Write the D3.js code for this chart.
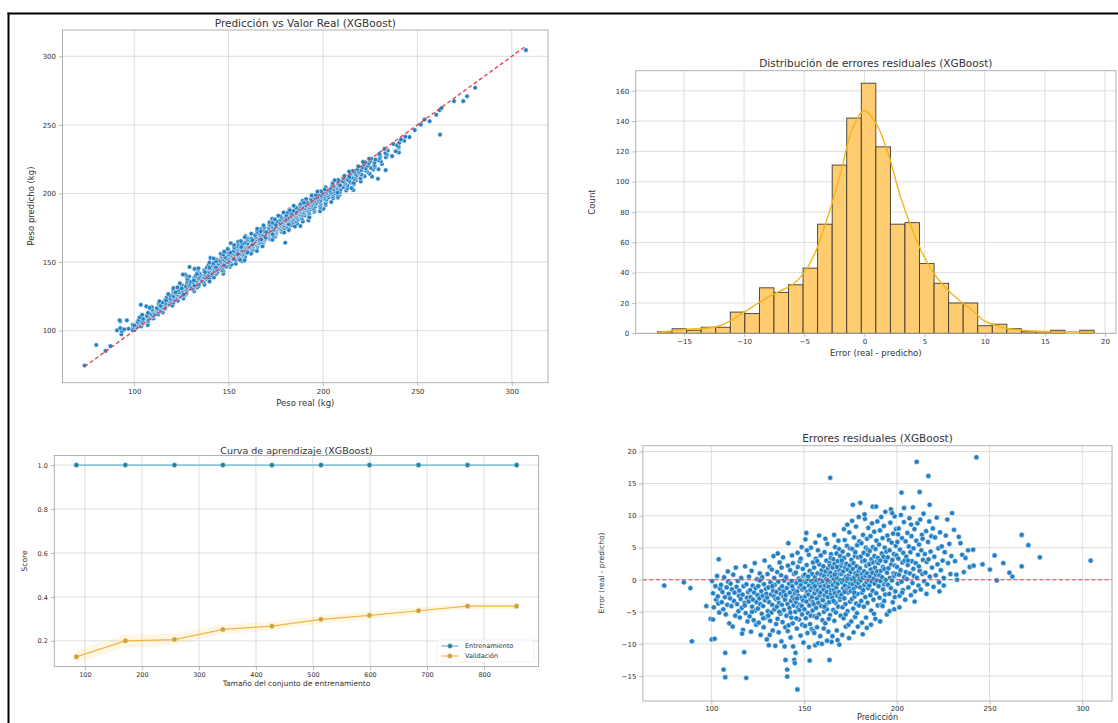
<!DOCTYPE html>
<html><head><meta charset="utf-8">
<script src="https://cdn.jsdelivr.net/npm/d3@7/dist/d3.min.js"></script>
<style>
body{margin:0;background:#fff;}
svg{display:block;}
text{font-family:"DejaVu Sans",sans-serif;fill:#333;}
</style>
</head><body>
<svg id="chart" width="1118" height="723"></svg>
<script>
// ---------------- DATA ----------------
// [prediction (kg), residual = real - prediction (kg)]
const residualPoints = [
[74.6,-0.9],[85.2,-0.4],[88.7,-1.3],[89.5,-9.6],[97.3,-4.1],[99.6,-6.1],[100.2,-9.3],
[100.4,-0.2],[100.9,-2.1],[101.3,-4.3],[101.8,-9.2],[102.2,-1.0],[102.6,-3.1],[103.1,0.6],[103.5,-2.6],[104,3.2],[104.3,-5.1],[104.7,-1.4],[100.9,-6.2],[103.8,-3.7],
[105.2,-0.8],[105.6,-3.5],[106,-1.9],[106.4,-4.6],[106.6,-14],[106.9,0.4],[107.3,-2.7],[107.5,-11.4],[107.5,-15.2],[107.8,-5.4],[108.2,-1.2],[108.6,-3.9],[109,-0.3],[109.3,-2.2],[109.7,-6.8],[108.9,1.3],
[110.1,-2.9],[110.4,-0.6],[110.8,-4.1],[111.1,-1.5],[111.5,-7.3],[111.8,0.8],[112.2,-3.3],[112.5,-2.0],[112.9,-5.6],[113.2,1.9],[113.6,-1.1],[113.9,-3.8],[114.3,-0.2],[114.6,-4.9],[114.9,-2.5],
[115.1,-1.7],[115.4,-5.9],[115.8,-3.0],[116.1,0.3],[116.4,-4.4],[116.8,-2.3],[117.1,-7.8],[117.4,-1.0],[117.7,-11.3],[117.9,-3.6],[118.2,2.1],[118.5,-5.2],[118.8,-15.3],[118.9,-0.7],[119.2,-2.8],[119.5,-6.5],[119.8,-1.9],[116.6,-8.4],[118.0,-4.0],
[120.1,-3.4],[120.3,0.5],[120.6,-5.7],[120.9,-1.6],[121.2,-2.7],[121.4,-8.1],[121.7,1.4],[122,-4.2],[122.3,-0.9],[122.5,-3.1],[122.8,-6.3],[123.1,-2.0],[123.4,2.6],[123.6,-4.8],[123.9,-1.3],[124.2,-7.0],[124.4,-3.5],[124.7,0.1],[124.9,-2.4],[121.9,-5.0],
[125.1,-4.5],[125.3,-1.0],[125.6,-6.7],[125.9,-2.9],[126.1,1.0],[126.4,-3.8],[126.6,-8.6],[126.9,-1.8],[127.2,-5.3],[127.4,0.4],[127.7,-2.5],[127.9,-4.1],[128.2,-7.4],[128.4,-0.7],[128.7,3.0],[128.9,-3.2],[129.2,-5.9],[129.4,-1.4],[129.7,-2.2],[129.9,-9.3],[126.2,-0.1],[128.0,-6.0],
[130.1,-2.8],[130.3,0.9],[130.5,-4.9],[130.8,-1.2],[131,-10.2],[131.2,-3.5],[131.4,2.0],[131.7,-6.4],[131.9,-0.4],[132.1,-2.3],[132.4,-5.1],[132.6,1.6],[132.8,-3.9],[133.1,-7.9],[133.3,-1.7],[133.5,3.7],[133.8,-2.6],[134,-4.6],[134.2,-0.8],[134.5,-10.3],[134.7,-3.0],[134.9,-6.9],[131.5,-8.6],[132.9,-1.0],[130.7,-5.6],[133.9,0.3],
[135.1,-1.9],[135.3,-4.2],[135.5,1.2],[135.7,-6.1],[135.9,-2.9],[136.1,-0.3],[136.3,-8.2],[136.5,-3.6],[136.8,2.7],[137,-1.4],[137.2,-5.3],[137.4,-2.2],[137.6,0.7],[137.8,-9.6],[138,-3.9],[138.2,-1.0],[138.4,-6.6],[138.7,3.5],[138.9,-2.6],[139.1,-4.7],[139.3,-0.1],[139.5,-10.4],[139.7,-3.1],[139.9,-7.4],[136.6,-5.0],[137.9,1.9],[139.0,-1.8],[135.8,4.1],
[140,-12.5],[140.1,-2.4],[140.3,0.4],[140.5,-5.6],[140.7,-1.3],[140.9,-14],[140.9,-15.1],[141.1,-3.8],[141.3,2.2],[141.5,5.7],[141.7,-7.1],[141.9,-0.6],[142.1,-4.4],[142.3,-2.0],[142.5,1.5],[142.7,-9.0],[142.9,-3.3],[143.1,-5.9],[143.3,-0.2],[143.5,3.8],[143.7,-2.7],[143.9,-6.8],[144.1,-10.4],[144.2,-1.5],[144.4,-4.0],[144.6,0.9],[144.7,-12.5],[144.8,-3.0],[141.2,-8.0],[142.6,-5.1],[143.6,-1.0],[144.0,2.6],[145,-13],[145.4,-11.4],
[145.1,-2.1],[145.3,-5.0],[145.5,1.1],[145.7,-3.5],[145.9,-0.5],[146.1,-7.6],[146.3,-1.8],[146.4,-17.1],[146.5,4.2],[146.7,-4.3],[146.9,-2.5],[147.1,0.2],[147.3,-6.2],[147.5,-1.1],[147.7,2.9],[147.9,-3.9],[148.1,-8.7],[148.3,-0.8],[148.5,-2.8],[148.7,5.1],[148.9,-5.4],[149.1,-1.5],[149.3,1.7],[149.5,-3.2],[149.7,-9.8],[149.9,-0.3],[145.8,-6.0],[146.6,2.0],[147.4,-4.7],[148.2,3.3],[149.0,-7.0],[149.6,0.6],[146.2,-2.9],[147.8,-0.1],[148.8,-4.1],
[150.1,-1.3],[150.2,-4.6],[150.4,0.8],[150.6,-2.6],[150.7,6.3],[150.9,-6.0],[151.1,-0.4],[151.3,-3.4],[151.4,2.3],[151.6,-1.9],[151.8,-8.3],[152,0.1],[152.1,-5.2],[152.3,-2.3],[152.5,3.9],[152.7,-0.9],[152.8,-4.0],[153,-12.6],[153,1.4],[153.2,-6.9],[153.4,-1.6],[153.5,-3.0],[153.7,5.0],[153.9,-0.2],[154.1,-7.7],[154.2,-2.7],[154.4,0.9],[154.6,-4.8],[154.7,-3.5],[154.8,2.7],[155,-8.0],[150.5,-7.2],[151.5,4.6],[152.6,-10.5],[153.6,-5.6],[154.3,-1.2],[151.2,7.3],[152.2,0.5],
[155.1,-0.6],[155.2,-3.8],[155.4,1.9],[155.6,-2.1],[155.7,-5.7],[155.9,0.4],[156,-10.2],[156.2,-1.4],[156.4,3.3],[156.5,-4.4],[156.7,-0.1],[156.9,-2.9],[157,-7.4],[157.2,1.0],[157.4,-1.7],[157.5,4.6],[157.7,-3.6],[157.9,-0.7],[158,-5.4],[158.2,2.4],[158.4,-2.4],[158.5,0.0],[158.7,-8.8],[158.9,-1.0],[159,3.8],[159.2,-4.1],[159.4,-0.4],[159.5,1.5],[159.7,-3.1],[159.9,-6.3],[155.5,-8.3],[156.1,5.8],[156.8,-5.9],[157.6,-9.9],[158.1,6.9],[158.8,-2.0],[159.3,0.8],[157.1,2.9],[155.8,-1.0],[159.6,-10.0],
[160.1,-0.2],[160.2,-3.2],[160.4,2.1],[160.5,-1.5],[160.7,-5.0],[160.8,0.6],[161,4.3],[161.1,-2.4],[161.3,-0.9],[161.4,-6.8],[161.6,1.3],[161.7,-3.9],[161.9,0.1],[162,3.0],[162.2,-1.9],[162.3,-4.6],[162.5,5.6],[162.6,-0.5],[162.8,-2.7],[162.9,1.8],[163.1,-8.1],[163.2,-1.1],[163.4,0.8],[163.5,-3.5],[163.7,2.6],[163.7,-12.5],[163.8,-0.3],[164,-5.5],[164.1,15.9],[164.2,1.1],[164.3,-2.2],[164.5,4.0],[164.6,-1.6],[164.8,-9.7],[164.9,0.4],[160.6,-7.6],[161.5,6.4],[162.4,-9.5],[163.3,-6.1],[164.4,3.4],[160.9,-4.2],[162.7,-0.1],[163.9,2.2],
[165.1,0.5],[165.2,-2.8],[165.4,1.9],[165.5,-0.8],[165.7,-4.7],[165.8,3.2],[166,-1.6],[166.1,0.1],[166.3,-6.4],[166.4,2.5],[166.6,-2.1],[166.7,5.1],[166.9,-0.4],[167,-3.6],[167.2,1.2],[167.3,-1.2],[167.5,4.1],[167.6,-7.9],[167.8,0.3],[167.9,-2.5],[168.1,2.9],[168.2,-0.6],[168.4,-4.2],[168.5,6.1],[168.7,1.6],[168.8,-1.9],[169,-10.1],[169.1,0.9],[169.3,-3.1],[169.4,3.7],[169.6,-0.1],[169.7,-5.6],[169.9,2.2],[165.3,-8.8],[166.2,7.0],[167.1,-5.1],[168.0,-9.4],[168.9,4.8],[169.5,-2.7],[166.5,0.8],[167.7,2.0],[165.9,-3.3],
[170.1,0.9],[170.2,-2.3],[170.4,2.7],[170.5,-0.4],[170.7,-4.3],[170.8,4.4],[171,-1.3],[171.1,1.3],[171.3,-6.0],[171.4,0.0],[171.6,3.4],[171.7,-2.9],[171.9,6.2],[172,-0.9],[172.2,1.9],[172.3,-3.8],[172.5,-7.3],[172.6,0.5],[172.8,2.5],[172.9,-1.6],[173.1,5.3],[173.2,-0.2],[173.4,-4.9],[173.5,1.6],[173.7,-2.0],[173.8,3.9],[174,-7.0],[174.1,0.7],[174.3,-1.1],[174.4,7.4],[174.6,2.2],[174.8,-3.4],[174.9,-0.6],[170.6,-8.6],[171.5,7.9],[172.4,-5.4],[173.3,8.6],[174.2,-9.1],[170.3,3.0],[171.8,-1.9],[173.6,0.2],[174.7,4.9],
[175.1,1.2],[175.2,-1.8],[175.4,-6.5],[175.5,3.1],[175.7,0.1],[175.8,-3.0],[176,4.8],[176.1,-0.7],[176.3,11.7],[176.3,1.7],[176.5,-4.5],[176.6,2.6],[176.8,-1.4],[176.9,6.6],[177.1,0.4],[177.2,-2.6],[177.4,3.7],[177.5,-5.8],[177.7,1.0],[177.8,-0.3],[178,8.3],[178.1,-3.7],[178.3,2.1],[178.4,-1.0],[178.6,5.4],[178.7,0.7],[178.9,-2.2],[179,-7.3],[179.1,3.5],[179.3,-0.5],[179.4,1.4],[179.6,-4.0],[179.8,6.0],[179.9,0.2],[175.9,9.2],[176.7,-8.2],[177.6,4.3],[178.5,-5.2],[179.5,9.8],[177.0,-2.0],
[180.1,1.8],[180.3,12.0],[180.3,-1.2],[180.5,3.6],[180.6,-0.1],[180.8,-3.3],[180.9,5.7],[181.1,0.9],[181.3,-2.0],[181.4,2.9],[181.6,-8.5],[181.6,0.3],[181.8,7.0],[181.9,-1.6],[182.1,4.2],[182.2,-4.2],[182.4,1.3],[182.5,-0.8],[182.7,3.0],[182.8,9.5],[183,-2.7],[183.1,0.6],[183.3,5.0],[183.4,-5.9],[183.6,2.2],[183.7,-0.4],[183.9,6.4],[184,1.0],[184.2,-3.6],[184.3,3.9],[184.5,-1.3],[184.6,8.1],[184.8,0.0],[184.9,2.5],[181.2,-6.7],[182.6,10.2],[183.8,-7.5],[184.4,4.7],
[185.1,2.4],[185.2,-0.9],[185.4,4.5],[185.5,0.5],[185.7,-2.4],[185.8,6.8],[186,1.6],[186.2,-4.8],[186.3,3.2],[186.5,-0.3],[186.6,8.8],[186.8,1.1],[187,11.4],[187,-1.7],[187.1,5.1],[187.3,2.7],[187.4,-3.1],[187.6,0.2],[187.8,7.5],[187.9,3.7],[188.1,-0.6],[188.2,1.9],[188.4,-6.1],[188.5,4.8],[188.7,0.8],[188.8,11.4],[188.9,-2.1],[189,6.1],[189.2,2.8],[189.3,-0.1],[189.5,9.1],[189.7,-4.0],[189.8,3.4],[186.1,-7.0],[187.7,-5.3],[189.4,1.3],
[190.1,2.6],[190.2,-1.0],[190.4,5.5],[190.6,0.7],[190.7,-2.8],[190.9,7.7],[191.1,3.0],[191.2,-0.2],[191.4,1.4],[191.6,9.8],[191.7,-3.9],[191.9,4.1],[192.1,0.4],[192.3,-4.1],[192.3,6.5],[192.5,2.0],[192.6,-1.5],[192.8,3.6],[193,8.4],[193.1,-0.7],[193.3,1.7],[193.5,5.0],[193.7,-2.3],[193.8,10.6],[194,2.9],[194.2,-0.4],[194.4,4.4],[194.6,-5.4],[194.7,1.1],[194.9,6.9],[191.0,-6.5],[193.2,-3.3],[194.1,0.0],
[195.1,3.5],[195.3,-0.8],[195.5,1.8],[195.7,6.2],[195.9,-2.2],[196.1,4.6],[196.3,0.3],[196.5,8.9],[196.8,11.0],[196.8,-1.3],[197,2.4],[197.2,5.8],[197.4,-0.1],[197.6,3.1],[197.8,-3.5],[198,7.2],[198.2,1.0],[198.4,4.0],[198.6,-4.6],[198.6,0.6],[198.8,9.9],[199,2.2],[199.2,-1.8],[199.4,5.3],[199.6,0.9],[199.8,3.8],[196.0,-4.9],[197.5,10.4],[198.9,-2.7],[199.5,7.9],
[200.1,2.0],[200.3,5.9],[200.5,-0.6],[200.8,3.3],[201,8.0],[201.2,0.8],[201.5,-2.5],[201.7,4.7],[202,1.5],[202.2,10.1],[202.5,13.6],[202.5,-0.3],[202.8,6.5],[203,2.7],[203.3,-1.6],[203.5,4.2],[203.8,9.0],[204,0.4],[204.2,3.0],[204.5,-3.1],[204.7,6.0],[204.9,1.2],[201.4,-4.3],[202.9,-2.0],[203.9,11.2],[200.6,7.1],
[205.1,3.6],[205.4,0.1],[205.7,7.3],[205.9,2.3],[206.2,-1.2],[206.5,5.2],[206.8,9.6],[207,1.0],[207.3,4.3],[207.6,-2.4],[207.9,6.8],[208.1,2.9],[208.4,-0.5],[208.7,11.3],[209,4.9],[209.2,0.6],[209.5,7.9],[209.8,-1.8],[206.0,3.0],[207.7,8.6],[208.9,1.7],[209.6,-3.4],
[210.2,2.6],[210.5,6.1],[210.7,18.4],[210.8,0.3],[211.1,8.8],[211.4,3.9],[211.7,-0.9],[212,5.5],[212.3,13.7],[212.3,1.4],[212.6,9.4],[212.9,-1.5],[213.2,4.6],[213.5,7.0],[213.8,0.9],[214.1,3.1],[214.4,10.3],[214.7,-0.2],[211.9,2.1],[213.9,6.4],
[215.1,4.0],[215.4,1.1],[215.8,7.6],[216.1,2.8],[216.4,-0.7],[216.8,5.9],[217,16.2],[217.1,3.2],[217.5,9.1],[217.7,11.7],[217.8,0.5],[218.2,4.4],[218.6,6.8],[219,1.9],[219.4,8.0],[219.8,-1.1],[216.0,-2.2],
[220.2,3.6],[220.6,6.6],[221,0.7],[221.5,9.7],[221.9,2.4],[222.4,4.9],[222.8,-0.4],[223.3,7.4],[223.7,1.5],[224.2,5.2],[224.7,3.0],[223.0,-1.8],
[225.3,0.3],[225.3,-0.9],[225.8,4.3],[226.4,6.9],[227.2,9.4],[227.6,2.6],[228.3,5.6],[228.9,0.9],[229.8,10.4],[229.4,3.7],
[230.8,7.8],[231.4,2.9],[232.1,0.8],[232.5,0.0],[233.4,6.7],[234.3,5.7],[235.2,3.9],[236.1,1.2],[237,3.4],[238.4,4.6],[239.3,2.0],
[241.1,4.7],[241.4,2.2],[242.9,19.1],[246.2,2.4],[250.2,1.6],[252.7,3.8],[253.9,-0.1],[257.4,2.6],[260.7,1.1],[262.3,0.5],[267.3,7.0],[267.3,2.1],[270.9,5.4],[277.1,3.5],[304.5,3.0]
];

// Histogram of residuals (30 bins)
const histRange = [-17.2, 19.1];
const histCounts = [1,3,2,4,4,14,13,30,27,32,43,72,111,142,165,123,72,73,46,33,20,20,5,6,3,1,1,2,0,2];
// KDE curve (scaled to counts)
const kdeX = [-17.2,-16,-15,-14,-13,-12,-11,-10,-9,-8,-7,-6,-5,-4,-3,-2,-1,0,1,2,3,4,5,6,7,8,9,10,11,12,13,14,15,16,17,18,19.1];
const kdeY = [0.6,1.5,2.5,3,3.5,5,9,14,19,24,28,32,40,55,78,105,135,147,138,118,90,68,50,37,28,21,15,8,5,3,2,1.5,1.2,1,1,1,0.5];

// Learning curve
const trainSizes = [85,171,257,342,428,514,599,685,771,857];
const trainScores = [1.0,1.0,1.0,1.0,1.0,1.0,1.0,1.0,1.0,1.0];
const valScores = [0.127,0.200,0.206,0.252,0.267,0.298,0.316,0.337,0.358,0.358];
const valStd = [0.03,0.03,0.025,0.022,0.02,0.02,0.018,0.016,0.014,0.014];
const seriesLabels = ["Entrenamiento","Validación"];

// Tick values
const scatterTicks = [100,150,200,250,300];
const histXTicks = [-15,-10,-5,0,5,10,15,20];
const histYTicks = [0,20,40,60,80,100,120,140,160];
const lcXTicks = [100,200,300,400,500,600,700,800];
const lcYTicks = [0.2,0.4,0.6,0.8,1.0];
const residXTicks = [100,150,200,250,300];
const residYTicks = [-15,-10,-5,0,5,10,15,20];

// ---------------- STYLE ----------------
const GRID = "#d6d6d6", SPINE = "#a9a9a9", PT = "#2480c4", RED = "#e8394a";
const svg = d3.select("#chart");
svg.append("rect").attr("width",1118).attr("height",723).attr("fill","#fff");

const pad = (ext, f=0.05) => { const r = ext[1]-ext[0]; return [ext[0]-r*f, ext[1]+r*f]; };
const minus = d => (d < 0 ? "\u2212" + Math.abs(d) : String(d));

function drawGrid(g, x, y, xt, yt) {
  const [x0,x1] = x.range(), [y0,y1] = y.range();
  g.append("g").selectAll("line").data(xt).join("line")
    .attr("x1", d=>x(d)).attr("x2", d=>x(d)).attr("y1", y0).attr("y2", y1)
    .attr("stroke", GRID).attr("stroke-width", 0.8);
  g.append("g").selectAll("line").data(yt).join("line")
    .attr("y1", d=>y(d)).attr("y2", d=>y(d)).attr("x1", x0).attr("x2", x1)
    .attr("stroke", GRID).attr("stroke-width", 0.8);
}
function drawAxes(g, x, y, xt, yt, fx, fy, fs, xpad) {
  const [x0,x1] = x.range(), [y0,y1] = y.range();
  g.append("rect").attr("x",x0).attr("y",y1).attr("width",x1-x0).attr("height",y0-y1)
    .attr("fill","none").attr("stroke",SPINE).attr("stroke-width",0.9);
  const ax = g.append("g").attr("transform",`translate(0,${y0})`)
    .call(d3.axisBottom(x).tickValues(xt).tickFormat(fx).tickSize(3.5).tickPadding(xpad ?? 2.5));
  const ay = g.append("g").attr("transform",`translate(${x0},0)`)
    .call(d3.axisLeft(y).tickValues(yt).tickFormat(fy).tickSize(3.5).tickPadding(3));
  [ax, ay].forEach(a => {
    a.select(".domain").remove();
    a.selectAll(".tick line").attr("stroke", SPINE).attr("stroke-width",0.8);
    a.selectAll(".tick text").attr("font-size", fs).attr("fill","#444")
      .attr("font-family",'"DejaVu Sans",sans-serif');
  });
}
function label(g, txt, x, y, fs, rot) {
  const t = g.append("text").attr("font-size", fs).attr("text-anchor","middle")
    .attr("dominant-baseline","central").text(txt);
  if (rot) t.attr("transform",`translate(${x},${y}) rotate(-90)`);
  else t.attr("x",x).attr("y",y);
  return t;
}

// ---------------- PANEL A: Predicted vs real ----------------
{
  const g = svg.append("g");
  const real = residualPoints.map(d => d[0] + d[1]);
  const pred = residualPoints.map(d => d[0]);
  const all = d3.extent(real.concat(pred));
  const x = d3.scaleLinear().domain(pad(all)).range([62.5, 548]);
  const y = d3.scaleLinear().domain(pad(all)).range([382.7, 30]);
  drawGrid(g, x, y, scatterTicks, scatterTicks);
  g.append("g").selectAll("circle").data(residualPoints).join("circle")
    .attr("cx", d => x(d[0]+d[1])).attr("cy", d => y(d[0])).attr("r", 2.3)
    .attr("fill", PT).attr("stroke","#fff").attr("stroke-width",0.5);
  const rExt = d3.extent(real);
  g.append("line").attr("x1", x(rExt[0])).attr("y1", y(rExt[0]))
    .attr("x2", x(rExt[1])).attr("y2", y(rExt[1]))
    .attr("stroke", RED).attr("stroke-width",1.3).attr("stroke-dasharray","4,2.5");
  drawAxes(g, x, y, scatterTicks, scatterTicks, d=>d, d=>d, 7);
  label(g, "Predicción vs Valor Real (XGBoost)", 305.3, 22.7, 10.5);
  label(g, "Peso real (kg)", 305.3, 402.7, 8.5);
  label(g, "Peso predicho (kg)", 31, 206, 8.5, true);
}

// ---------------- PANEL B: Residual histogram ----------------
{
  const g = svg.append("g");
  const binW = (histRange[1]-histRange[0]) / histCounts.length;
  const bins = histCounts.map((c,i) => ({x0: histRange[0]+i*binW, x1: histRange[0]+(i+1)*binW, c}));
  const x = d3.scaleLinear().domain(pad(histRange)).range([635.7, 1116]);
  const y = d3.scaleLinear().domain([0, d3.max(histCounts)*1.05]).range([333.3, 70.7]);
  drawGrid(g, x, y, histXTicks, histYTicks);
  g.append("g").selectAll("rect").data(bins).join("rect")
    .attr("x", d=>x(d.x0)).attr("width", d=>x(d.x1)-x(d.x0))
    .attr("y", d=>y(d.c)).attr("height", d=>y(0)-y(d.c))
    .attr("fill","#ffcc70").attr("stroke","#3e3a33").attr("stroke-width",0.9);
  const kde = kdeX.map((v,i)=>[v,kdeY[i]]);
  g.append("path").datum(kde)
    .attr("d", d3.line().x(d=>x(d[0])).y(d=>y(d[1])).curve(d3.curveCatmullRom))
    .attr("fill","none").attr("stroke","#f4b41a").attr("stroke-width",1.4);
  drawAxes(g, x, y, histXTicks, histYTicks, minus, d=>d, 7);
  label(g, "Distribución de errores residuales (XGBoost)", 875.8, 62.7, 10.5);
  label(g, "Error (real - predicho)", 875.8, 353.3, 8.5);
  label(g, "Count", 592, 202, 8.5, true);
}

// ---------------- PANEL C: Learning curve ----------------
{
  const g = svg.append("g");
  const x = d3.scaleLinear().domain(pad(d3.extent(trainSizes))).range([54.3, 538.6]);
  const y = d3.scaleLinear().domain(pad([d3.min(valScores), d3.max(trainScores)])).range([666.5, 455.5]);
  drawGrid(g, x, y, lcXTicks, lcYTicks);
  const band = trainSizes.map((s,i)=>({s, lo: valScores[i]-valStd[i], hi: valScores[i]+valStd[i]}));
  g.append("path").datum(band)
    .attr("d", d3.area().x(d=>x(d.s)).y0(d=>y(d.lo)).y1(d=>y(d.hi)))
    .attr("fill","#ffb000").attr("opacity",0.1);
  const series = [
    {vals: trainScores, line:"#62b6d6", mk:"#2d7c93"},
    {vals: valScores, line:"#f3b53f", mk:"#c2a24e"}
  ];
  series.forEach(s => {
    const pts = trainSizes.map((t,i)=>[t, s.vals[i]]);
    g.append("path").datum(pts).attr("d", d3.line().x(d=>x(d[0])).y(d=>y(d[1])))
      .attr("fill","none").attr("stroke", s.line).attr("stroke-width",1.2);
    g.append("g").selectAll("circle").data(pts).join("circle")
      .attr("cx", d=>x(d[0])).attr("cy", d=>y(d[1])).attr("r",2.3)
      .attr("fill", s.mk).attr("stroke", s.line).attr("stroke-width",0.6);
  });
  drawAxes(g, x, y, lcXTicks, lcYTicks, d=>d, d3.format(".1f"), 6.5);
  // legend
  const lg = g.append("g");
  lg.append("rect").attr("x",437).attr("y",640).attr("width",97).attr("height",22)
    .attr("fill","#fff").attr("fill-opacity",0.8).attr("stroke","#e6e6e6").attr("stroke-width",0.6);
  series.forEach((s,i) => {
    const yy = 646 + i*10;
    lg.append("line").attr("x1",441.5).attr("x2",458.5).attr("y1",yy).attr("y2",yy)
      .attr("stroke",s.line).attr("stroke-width",1.2);
    lg.append("circle").attr("cx",450).attr("cy",yy).attr("r",2.3).attr("fill",s.mk)
      .attr("stroke",s.line).attr("stroke-width",0.6);
    lg.append("text").attr("x",465).attr("y",yy).attr("dominant-baseline","central")
      .attr("font-size",6.5).text(seriesLabels[i]);
  });
  label(g, "Curva de aprendizaje (XGBoost)", 296.5, 450, 9.5);
  label(g, "Tamaño del conjunto de entrenamiento", 296.5, 683.3, 7.5);
  label(g, "Score", 24, 561, 7.5, true);
}

// ---------------- PANEL D: Residuals vs prediction ----------------
{
  const g = svg.append("g");
  const x = d3.scaleLinear().domain(pad(d3.extent(residualPoints, d=>d[0]))).range([642.9, 1112]);
  const y = d3.scaleLinear().domain(pad(d3.extent(residualPoints, d=>d[1]))).range([701, 445.7]);
  drawGrid(g, x, y, residXTicks, residYTicks);
  g.append("g").selectAll("circle").data(residualPoints).join("circle")
    .attr("cx", d=>x(d[0])).attr("cy", d=>y(d[1])).attr("r", 2.6)
    .attr("fill", PT).attr("stroke","#fff").attr("stroke-width",0.5);
  g.append("line").attr("x1", x.range()[0]).attr("x2", x.range()[1])
    .attr("y1", y(0)).attr("y2", y(0))
    .attr("stroke", RED).attr("stroke-width",1.2).attr("stroke-dasharray","4,2.5");
  drawAxes(g, x, y, residXTicks, residYTicks, d=>d, minus, 7, 1.5);
  label(g, "Errores residuales (XGBoost)", 877.5, 438.3, 10.5);
  label(g, "Predicción", 877.5, 717.5, 8);
  label(g, "Error (real - predicho)", 601, 573, 7.5, true);
}

// ---------------- Frame lines ----------------
svg.append("line").attr("x1",7.5).attr("x2",1118).attr("y1",13.5).attr("y2",13.5)
  .attr("stroke","#000").attr("stroke-width",2);
svg.append("line").attr("x1",8.5).attr("x2",8.5).attr("y1",12.5).attr("y2",723)
  .attr("stroke","#000").attr("stroke-width",2);
</script>
</body></html>
